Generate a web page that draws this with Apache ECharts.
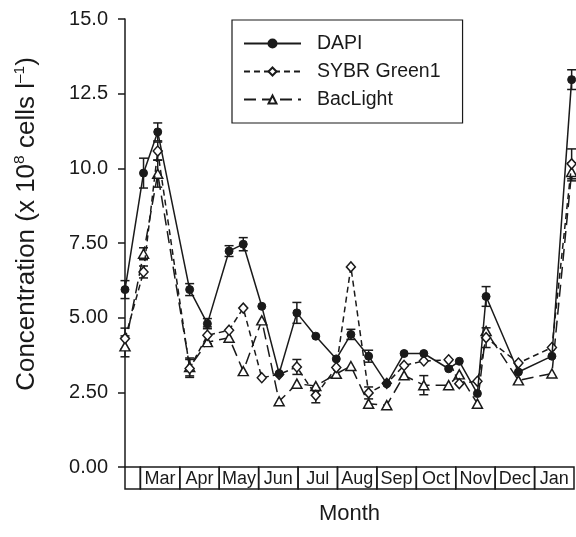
<!DOCTYPE html>
<html>
<head>
<meta charset="utf-8">
<script src="https://cdn.jsdelivr.net/npm/echarts@6/dist/echarts.min.js"></script>
<style>
  html, body { margin: 0; padding: 0; background: #fff; }
  #chart { width: 576px; height: 537px; }
</style>
</head>
<body>
<div id="chart"></div>
<script>
// month boxes under the axis (x in months counted from 1 March)
const months = ['', 'Mar', 'Apr', 'May', 'Jun', 'Jul', 'Aug', 'Sep', 'Oct', 'Nov', 'Dec', 'Jan'];
const monthStart = [-0.39, 0, 1, 2, 3, 4, 5, 6, 7, 8, 9, 10];
const monthEnd = [0, 1, 2, 3, 4, 5, 6, 7, 8, 9, 10, 11];

// sampling times
const sampleTime = [-0.39, 0.08, 0.44, 1.25, 1.70, 2.25, 2.61, 3.08, 3.52, 3.97, 4.45, 4.97,
  5.34, 5.79, 6.25, 6.69, 7.19, 7.82, 8.09, 8.55, 8.77, 9.59, 10.44, 10.94];

const dapi = [5.94, 9.84, 11.22, 5.94, 4.80, 7.23, 7.46, 5.38, 3.13, 5.16, 4.38, 3.62,
  4.44, 3.71, 2.79, 3.80, 3.80, 3.29, 3.54, 2.46, 5.71, 3.18, 3.71, 12.97];
const dapiErr = [0.3, 0.5, 0.3, 0.2, 0.17, 0.18, 0.22, 0, 0, 0.35, 0, 0,
  0.17, 0.2, 0, 0, 0, 0, 0, 0, 0.33, 0, 0, 0.33];

const sybr = [4.30, 6.53, 10.58, 3.30, 4.41, 4.58, 5.32, 2.99, 3.10, 3.35, 2.40, 3.33,
  6.70, 2.48, 2.80, 3.40, 3.55, 3.59, 2.79, 2.87, 4.33, 3.48, 4.00, 10.15];
const sybrErr = [0.35, 0.2, 0.3, 0.3, 0.28, 0, 0, 0, 0, 0.25, 0.25, 0,
  0, 0.2, 0, 0, 0, 0, 0, 0, 0.33, 0, 0, 0.5];

const bac = [4.04, 7.14, 9.82, 3.35, 4.18, 4.33, 3.21, 4.91, 2.20, 2.79, 2.71, 3.12,
  3.38, 2.12, 2.07, 3.07, 2.74, 2.74, 3.10, 2.12, 4.55, 2.90, 3.13, 9.88];
const bacErr = [0.35, 0.2, 0.45, 0.3, 0, 0, 0, 0, 0, 0, 0, 0,
  0, 0, 0, 0, 0.32, 0, 0, 0, 0, 0, 0, 0.3];

const yTicks = ['0.00', '2.50', '5.00', '7.50', '10.0', '12.5', '15.0'];

const font = 'Liberation Sans, Arial, sans-serif';
const ink = '#1a1a1a';

const pairs = (vals) => sampleTime.map((t, i) => [t, vals[i]]);

// vertical error bars with caps
const errorSeries = (vals, errs) => ({
  type: 'custom',
  silent: true,
  z: 1,
  clip: false,
  data: sampleTime.map((t, i) => [t, vals[i] - errs[i], vals[i] + errs[i], errs[i]]),
  renderItem(params, api) {
    if (!api.value(3)) return null;
    const lo = api.coord([api.value(0), api.value(1)]);
    const hi = api.coord([api.value(0), api.value(2)]);
    const w = 4.5;
    const style = { stroke: ink, lineWidth: 1.5 };
    return {
      type: 'group',
      children: [
        { type: 'line', shape: { x1: lo[0], y1: lo[1], x2: hi[0], y2: hi[1] }, style },
        { type: 'line', shape: { x1: lo[0] - w, y1: lo[1], x2: lo[0] + w, y2: lo[1] }, style },
        { type: 'line', shape: { x1: hi[0] - w, y1: hi[1], x2: hi[0] + w, y2: hi[1] }, style }
      ]
    };
  }
});

const chart = echarts.init(document.getElementById('chart'));
chart.setOption({
  backgroundColor: '#fff',
  animation: false,
  textStyle: { fontFamily: font, color: ink },
  grid: [
    { left: 125, right: 2, top: 19, bottom: 70 },
    { left: 125, right: 2, top: 467, height: 22 }
  ],
  legend: {
    left: 232,
    top: 20,
    orient: 'vertical',
    itemWidth: 57,
    itemHeight: 10,
    itemGap: 7,
    padding: [13, 22, 13, 11],
    borderColor: ink,
    borderWidth: 1.2,
    textStyle: { fontSize: 19.5, color: ink, fontFamily: font, lineHeight: 21, padding: [0, 0, 0, 11] },
    data: ['DAPI', 'SYBR Green1', 'BacLight']
  },
  xAxis: [
    { type: 'value', gridIndex: 0, min: -0.39, max: 11, show: false },
    {
      type: 'value', gridIndex: 1, min: -0.39, max: 11,
      name: 'Month', nameLocation: 'middle', nameGap: 14,
      nameTextStyle: { fontSize: 22, color: ink, fontFamily: font },
      axisLine: { show: false }, axisTick: { show: false },
      axisLabel: { show: false }, splitLine: { show: false }
    }
  ],
  yAxis: [
    {
      type: 'value', gridIndex: 0, min: 0, max: 15, interval: 2.5,
      name: '{t|Concentration (x 10}{s|8}{t| cells l}{s|–1}{t|)}',
      nameLocation: 'middle', nameGap: 84,
      nameTextStyle: {
        color: ink, fontFamily: font, padding: [0, 0, 0, 38],
        rich: {
          t: { fontSize: 26, color: ink, fontFamily: font, lineHeight: 29 },
          s: { fontSize: 15.5, color: ink, fontFamily: font, verticalAlign: 'top', lineHeight: 29 }
        }
      },
      axisLine: { show: true, onZero: false, lineStyle: { color: ink, width: 1.5 } },
      axisTick: { show: true, length: 7, lineStyle: { color: ink, width: 1.5 } },
      axisLabel: {
        fontSize: 20, color: ink, fontFamily: font, margin: 17,
        formatter: (v) => yTicks[Math.round(v / 2.5)]
      },
      splitLine: { show: false }
    },
    { type: 'value', gridIndex: 1, min: 0, max: 1, show: false }
  ],
  series: [
    errorSeries(dapi, dapiErr),
    errorSeries(sybr, sybrErr),
    errorSeries(bac, bacErr),
    {
      name: 'BacLight',
      type: 'line',
      z: 2,
      clip: false,
      data: pairs(bac),
      symbol: 'triangle',
      symbolSize: [10, 9],
      showAllSymbol: true,
      lineStyle: { color: ink, width: 1.5, type: [12, 6] },
      itemStyle: { color: '#fff', borderColor: ink, borderWidth: 1.5 }
    },
    {
      name: 'SYBR Green1',
      type: 'line',
      z: 3,
      clip: false,
      data: pairs(sybr),
      symbol: 'diamond',
      symbolSize: [9, 10],
      showAllSymbol: true,
      lineStyle: { color: ink, width: 1.5, type: [6, 4] },
      itemStyle: { color: '#fff', borderColor: ink, borderWidth: 1.5 }
    },
    {
      name: 'DAPI',
      type: 'line',
      z: 4,
      clip: false,
      data: pairs(dapi),
      symbol: 'circle',
      symbolSize: 8,
      showAllSymbol: true,
      lineStyle: { color: ink, width: 1.5 },
      itemStyle: { color: ink, borderColor: ink, borderWidth: 1 }
    },
    {
      // boxes holding the month names
      type: 'custom',
      xAxisIndex: 1,
      yAxisIndex: 1,
      silent: true,
      data: months.map((m, i) => [monthStart[i], monthEnd[i], m]),
      renderItem(params, api) {
        const a = api.coord([api.value(0), 1]);
        const b = api.coord([api.value(1), 0]);
        return {
          type: 'group',
          children: [
            {
              type: 'rect',
              shape: { x: a[0], y: a[1], width: b[0] - a[0], height: b[1] - a[1] },
              style: { fill: 'none', stroke: ink, lineWidth: 1.5 }
            },
            {
              type: 'text',
              style: {
                x: (a[0] + b[0]) / 2, y: (a[1] + b[1]) / 2 + 1,
                text: api.value(2), align: 'center', verticalAlign: 'middle',
                fontSize: 18, fontFamily: font, fill: ink
              }
            }
          ]
        };
      }
    }
  ]
});
</script>
</body>
</html>
